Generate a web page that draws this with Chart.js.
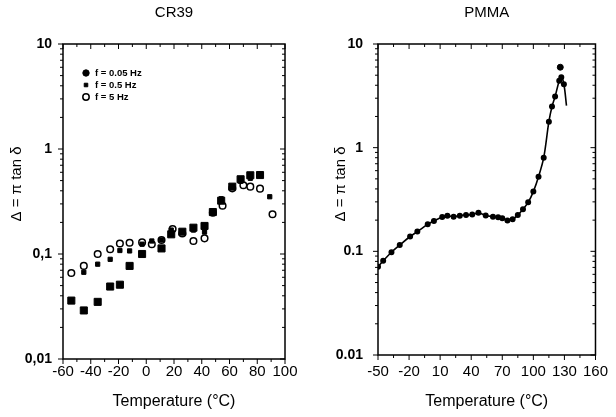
<!DOCTYPE html>
<html>
<head>
<meta charset="utf-8">
<script src="https://cdn.jsdelivr.net/npm/chart.js@4.4.1/dist/chart.umd.min.js"></script>
<style>
  html, body { margin: 0; padding: 0; background: #fff; }
  #wrap { position: relative; width: 616px; height: 417px; }
  .panel { position: absolute; top: 0; width: 308px; height: 417px; }
</style>
</head>
<body>
<div id="wrap">
  <div class="panel" style="left:0"><canvas id="cr39"></canvas></div>
  <div class="panel" style="left:308px"><canvas id="pmma"></canvas></div>
</div>
<script>
// CR39 – loss factor at three frequencies (temperature °C / Δ)
const cr39TempSlow = [-54, -45, -35, -26, -19, -12, -3, 11, 18, 26, 34, 42, 48, 54, 62, 68, 75, 82]
const cr39ValSlow  = [0.036, 0.029, 0.035, 0.049, 0.051, 0.077, 0.100, 0.113, 0.154, 0.163, 0.178, 0.185, 0.251, 0.322, 0.438, 0.515, 0.562, 0.565]
const cr39TempMid  = [-45, -35, -26, -19, -12, -3, 4, 11, 18, 26, 34, 42, 48, 54, 62, 68, 75, 89]
const cr39ValMid   = [0.067, 0.080, 0.089, 0.108, 0.107, 0.124, 0.133, 0.136, 0.169, 0.163, 0.169, 0.162, 0.255, 0.336, 0.438, 0.492, 0.526, 0.351]
const cr39TempFast = [-54, -45, -35, -26, -19, -12, -3, 4, 11, 19, 26, 34, 42, 48, 55, 62, 70, 75, 82, 91]
const cr39ValFast  = [0.066, 0.077, 0.100, 0.111, 0.126, 0.128, 0.129, 0.124, 0.136, 0.173, 0.157, 0.133, 0.141, 0.247, 0.288, 0.422, 0.451, 0.438, 0.419, 0.239]
const cr39Labels   = ['f = 0.05 Hz', 'f = 0.5 Hz', 'f = 5 Hz']
const cr39XTicks   = [-60, -40, -20, 0, 20, 40, 60, 80, 100]

// PMMA – measured curve plus the isolated peak point
const pmmaTemp = [-50, -45, -37, -29, -19, -12, -2, 4, 12, 17, 23, 29, 35, 41, 47, 54, 61, 66, 70, 75, 80, 85, 90, 95, 100, 105, 110, 115, 118, 121, 125, 127, 129.5, 132]
const pmmaVal  = [0.071, 0.081, 0.098, 0.115, 0.139, 0.155, 0.182, 0.196, 0.214, 0.220, 0.216, 0.221, 0.224, 0.226, 0.235, 0.222, 0.216, 0.213, 0.208, 0.198, 0.204, 0.224, 0.255, 0.297, 0.377, 0.525, 0.80, 1.78, 2.49, 3.11, 4.43, 4.78, 4.09, 2.54]
const pmmaPeakTemp = [126]
const pmmaPeakVal  = [5.97]
const pmmaXTicks   = [-50, -20, 10, 40, 70, 100, 130, 160]

const yTicks = [0.01, 0.1, 1, 10]
const FONT = '"Liberation Sans", Arial, sans-serif'

// frame + mirrored ticks: outward on left/bottom, inward on top/right
const framePlugin = {
  id: 'frame',
  afterDraw(chart, args, opts) {
    const { ctx, chartArea: a, scales: { x, y } } = chart
    ctx.save()
    ctx.strokeStyle = '#000'
    ctx.lineWidth = 1.5
    ctx.strokeRect(a.left, a.top, a.right - a.left, a.bottom - a.top)
    ctx.lineWidth = 1
    ctx.beginPath()
    const n = Math.round((opts.xMax - opts.xMin) / opts.xMinor)
    const every = Math.round(opts.xMajor / opts.xMinor)
    for (let i = 0; i <= n; i++) {
      const px = x.getPixelForValue(opts.xMin + i * opts.xMinor)
      const len = i % every === 0 ? 5 : 3
      ctx.moveTo(px, a.bottom); ctx.lineTo(px, a.bottom + len)
      ctx.moveTo(px, a.top); ctx.lineTo(px, a.top + len)
    }
    for (const d of [0.01, 0.1, 1]) {
      for (let m = 1; m <= 9; m++) {
        const py = y.getPixelForValue(d * m)
        const len = m === 1 ? 5 : 3
        ctx.moveTo(a.left - len, py); ctx.lineTo(a.left, py)
        ctx.moveTo(a.right - len, py); ctx.lineTo(a.right, py)
      }
    }
    const top = y.getPixelForValue(10)
    ctx.moveTo(a.left - 5, top); ctx.lineTo(a.left, top)
    ctx.stroke()
    ctx.restore()
  }
}

// titles drawn by hand so they can sit where the original has them
const titlesPlugin = {
  id: 'titles',
  afterDraw(chart, args, opts) {
    const { ctx, chartArea: a } = chart
    const cx = (a.left + a.right) / 2
    ctx.save()
    ctx.fillStyle = '#000'
    ctx.textAlign = 'center'
    ctx.textBaseline = 'middle'
    ctx.font = '15px ' + FONT
    ctx.fillText(opts.title, cx, 13)
    ctx.font = '16px ' + FONT
    ctx.fillText('Temperature (°C)', cx, 402)
    ctx.translate(opts.yTitleX, opts.yTitleY)
    ctx.rotate(-Math.PI / 2)
    ctx.font = '15px ' + FONT
    ctx.fillText('Δ = π tan δ', 0, 0)
    ctx.restore()
  }
}

// small legend in the upper left of the CR39 panel
const insideLegend = {
  id: 'insideLegend',
  afterDraw(chart, args, opts) {
    if (!opts.show) return
    const { ctx } = chart
    ctx.save()
    ctx.font = 'bold 9.5px ' + FONT
    ctx.textBaseline = 'middle'
    ctx.fillStyle = '#000'
    chart.data.datasets.forEach((ds, i) => {
      const yy = opts.y + i * 12
      ctx.fillStyle = ds.backgroundColor
      ctx.strokeStyle = ds.borderColor
      ctx.lineWidth = ds.borderWidth
      Chart.helpers.drawPoint(ctx, { pointStyle: i === 0 ? 'circle' : ds.pointStyle, radius: i === 1 ? 2.5 : 3.2, borderWidth: ds.borderWidth }, opts.x, yy)
      ctx.fillStyle = '#000'
      ctx.fillText(cr39Labels[i], opts.x + 9, yy + 0.5)
    })
    ctx.restore()
  }
}

function pts(xs, ys) {
  return xs.map((t, i) => ({ x: t, y: ys[i] }))
}

function makeOptions(cfg) {
  return {
    responsive: true,
    maintainAspectRatio: false,
    animation: false,
    layout: { padding: { left: 0, right: cfg.padRight, top: 44, bottom: 0 } },
    plugins: {
      legend: { display: false },
      tooltip: { enabled: false },
      frame: cfg.frame,
      titles: cfg.titles,
      insideLegend: cfg.legend
    },
    scales: {
      x: {
        type: 'linear',
        min: cfg.xTicks[0],
        max: cfg.xTicks[cfg.xTicks.length - 1],
        afterBuildTicks: (scale) => { scale.ticks = cfg.xTicks.map(v => ({ value: v })) },
        afterFit: (scale) => { scale.height = cfg.xHeight },
        grid: { display: false, drawTicks: false },
        border: { display: false },
        ticks: {
          autoSkip: false,
          maxRotation: 0,
          padding: cfg.xPad,
          color: '#000',
          font: { family: FONT, size: 15 }
        }
      },
      y: {
        type: 'logarithmic',
        min: 0.01,
        max: 10,
        afterBuildTicks: (scale) => { scale.ticks = yTicks.map(v => ({ value: v })) },
        afterFit: (scale) => { scale.width = cfg.yWidth },
        grid: { display: false, drawTicks: false },
        border: { display: false },
        ticks: {
          padding: cfg.yPad,
          color: '#000',
          font: { family: FONT, size: 14, weight: 'bold' },
          callback: (v) => cfg.comma ? String(v).replace('.', ',') : String(v)
        }
      }
    }
  }
}

new Chart(document.getElementById('cr39'), {
  type: 'scatter',
  data: {
    datasets: [
      { label: cr39Labels[0], data: pts(cr39TempSlow, cr39ValSlow), pointStyle: 'rect', pointRadius: 5,
        backgroundColor: '#000', borderColor: '#000', borderWidth: 1 },
      { label: cr39Labels[1], data: pts(cr39TempMid, cr39ValMid), pointStyle: 'rect', pointRadius: 3,
        backgroundColor: '#000', borderColor: '#000', borderWidth: 1 },
      { label: cr39Labels[2], data: pts(cr39TempFast, cr39ValFast), pointStyle: 'circle', pointRadius: 3.3,
        backgroundColor: '#fff', borderColor: '#000', borderWidth: 1.5 }
    ]
  },
  options: makeOptions({
    padRight: 23, xHeight: 58, yWidth: 63, xPad: 4, yPad: 11, comma: true,
    xTicks: cr39XTicks,
    frame: { xMin: -60, xMax: 100, xMinor: 10, xMajor: 20 },
    titles: { title: 'CR39', yTitleX: 17, yTitleY: 184 },
    legend: { show: true, x: 86, y: 73 }
  }),
  plugins: [framePlugin, titlesPlugin, insideLegend]
})

new Chart(document.getElementById('pmma'), {
  type: 'scatter',
  data: {
    datasets: [
      { label: 'PMMA', data: pts(pmmaTemp, pmmaVal), showLine: true, tension: 0.35,
        borderColor: '#000', borderWidth: 1.6, backgroundColor: '#000',
        pointStyle: 'circle', pointRadius: pmmaTemp.map((t, i) => i === pmmaTemp.length - 1 ? 0 : 2.2) },
      { label: 'peak', data: pts(pmmaPeakTemp, pmmaPeakVal), pointStyle: 'circle', pointRadius: 3,
        backgroundColor: '#000', borderColor: '#000' }
    ]
  },
  options: makeOptions({
    padRight: 19, xHeight: 62, yWidth: 70, xPad: 8, yPad: 15, comma: false,
    xTicks: pmmaXTicks,
    frame: { xMin: -50, xMax: 160, xMinor: 15, xMajor: 30 },
    titles: { title: 'PMMA', yTitleX: 33, yTitleY: 184 },
    legend: { show: false }
  }),
  plugins: [framePlugin, titlesPlugin, insideLegend]
})
</script>
</body>
</html>
